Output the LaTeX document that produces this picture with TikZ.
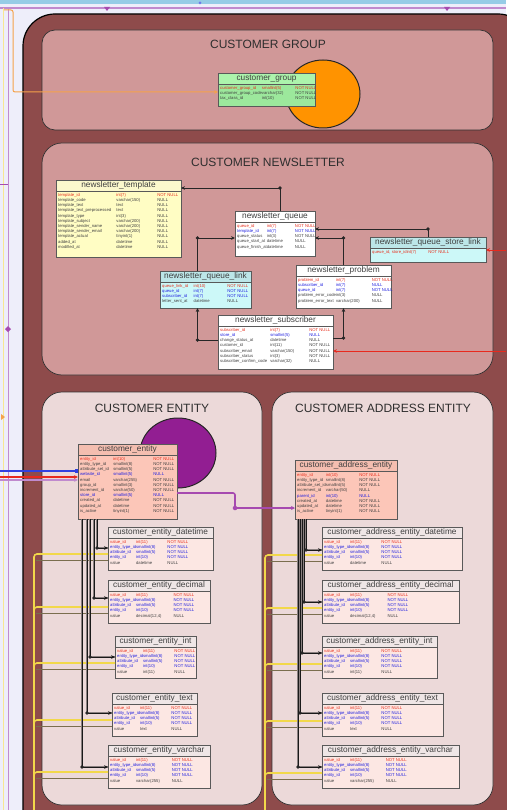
\documentclass[tikz,border=0pt]{standalone}
\usepackage{fontspec}
\setmainfont{Liberation Sans}
\usetikzlibrary{arrows.meta,calc}

\definecolor{canvas}{HTML}{EEEEFA}
\definecolor{outerfill}{HTML}{8E4B4B}
\definecolor{grpfill}{HTML}{D09898}
\definecolor{entfill}{HTML}{ECD9D9}
\definecolor{titlegray}{HTML}{2E2E2E}
\definecolor{pkred}{HTML}{E8301E}
\definecolor{fkblue}{HTML}{2222E0}
\definecolor{rowgray}{HTML}{404040}
\definecolor{grnhead}{HTML}{ACF4AC}
\definecolor{grnbody}{HTML}{9CE89C}
\definecolor{yelhead}{HTML}{FBF8CC}
\definecolor{yelbody}{HTML}{FFFDC4}
\definecolor{cyanhead}{HTML}{BCE6E8}
\definecolor{cyanbody}{HTML}{CCF8F8}
\definecolor{salhead}{HTML}{F4BEB0}
\definecolor{salbody}{HTML}{FCC6B8}
\definecolor{valhead}{HTML}{EFE6E6}
\definecolor{valbody}{HTML}{FCE7E3}
\definecolor{grporange}{HTML}{FF9300}
\definecolor{entpurple}{HTML}{921E92}
\definecolor{linkpurple}{HTML}{A64AB0}
\definecolor{linkred}{HTML}{E82A1E}
\definecolor{linkblue}{HTML}{3040E0}
\definecolor{linkyellow}{HTML}{F2D84A}
\definecolor{linkorange}{HTML}{F5A24A}
\definecolor{linkolive}{HTML}{7A6E4E}
\definecolor{linkgray}{HTML}{8A8080}
\definecolor{topblue}{HTML}{96CCE6}
\definecolor{linklav}{HTML}{C08ACE}

% underscores in table and column names are printed as they are
\catcode`\_=12

% table: box, header band and title
% #1 name, #2 x, #3 y, #4 width, #5 height, #6 header fill, #7 body fill, #8 title
\newcommand{\dbtable}[8]{%
  \node[tblbox, fill=#7, minimum width=#4pt, minimum height=#5pt, anchor=north west] (#1) at (#2,#3) {};
  \fill[#6] ([xshift=0.5pt,yshift=-0.5pt]#1.north west) rectangle ([xshift=-0.5pt,yshift=-11pt]#1.north east);
  \draw[tblrule] ([yshift=-11pt]#1.north west) -- ([yshift=-11pt]#1.north east);
  \node[tbltitle] (#1-title) at ([yshift=-5.7pt]#1.north) {#8};
  \draw[tblframe] (#1.north west) rectangle (#1.south east);
}
% table rows: #1 table name, #2 width of the rows, #3 rows
\newcommand{\dbrows}[3]{%
  \node[tblrows, anchor=north west] (#1-rows) at ([xshift=2pt,yshift=-12.5pt]#1.north west)
    {\begin{tabular*}{#2pt}{@{}l@{\extracolsep{\fill}}ll@{}}#3\end{tabular*}};
}
\newcommand{\dbpk}[3]{\textcolor{pkred}{#1}&\textcolor{pkred}{#2}&\textcolor{pkred}{#3}\\}
\newcommand{\dbfk}[3]{\textcolor{fkblue}{#1}&\textcolor{fkblue}{#2}&\textcolor{fkblue}{#3}\\}
\newcommand{\dbcol}[3]{#1&#2&#3\\}
\newcommand{\valrows}[1]{%
  \dbpk{value_id}{int(11)}{NOT NULL}%
  \dbfk{entity_type_id}{smallint(8)}{NOT NULL}%
  \dbfk{attribute_id}{smallint(5)}{NOT NULL}%
  \dbfk{entity_id}{int(10)}{NOT NULL}%
  \dbcol{value}{#1}{NULL}}

\begin{document}
\begin{tikzpicture}[x=1pt,y=-1pt,
  cluster/.style={draw=black!80, line width=0.7pt, rounded corners=13pt},
  clustertitle/.style={font=\fontsize{12}{14}\selectfont, text=titlegray, inner sep=0pt},
  tblframe/.style={draw=black!65, line width=0.9pt},
  tblrule/.style={draw=black!65, line width=0.6pt},
  tblbox/.style={tblframe, inner sep=0pt, outer sep=0pt},
  tbltitle/.style={font=\fontsize{8.3}{9}\selectfont, text=rowgray, inner sep=0pt},
  tblrows/.style={font=\fontsize{4.2}{5.2}\selectfont, text=rowgray, inner sep=0pt},
  link/.style={draw=black!85, line width=0.8pt, -{Stealth[length=4pt,width=3.6pt]}},
  fanlink/.style={link, draw=black!90, line width=0.7pt,
    preaction={draw=linkgray, line width=2.6pt, arrows=-}},
  linkdot/.style={circle, fill=black!85, inner sep=1.3pt, outer sep=0pt},
  yellink/.style={draw=linkyellow, line width=1.6pt},
  olivelink/.style={draw=linkolive, line width=0.6pt},
  redlink/.style={draw=linkred, line width=1pt, -{Stealth[length=4pt,width=3.6pt]}},
  purplelink/.style={draw=linkpurple, line width=1.6pt, -{Stealth[length=4pt,width=4pt]}},
]
\useasboundingbox (0,0) rectangle (506,810);
\fill[canvas] (0,0) rectangle (506,810);

% lines entering along the top and left margins
\fill[topblue] (0,0) rectangle (506,4);
\draw[linklav, line width=1.2pt] (0,8) -- (506,8);
\fill[linkpurple] (104,7) -- (110,7) -- (107,11) -- cycle;
\fill[linkpurple] (444,7) -- (450,7) -- (447,11) -- cycle;
\fill[linkblue!70] (200,3) circle (1.5pt);
\draw[linkyellow!60, line width=1pt] (3,8) -- (3,810);
\draw[linklav, line width=1pt] (8,8) -- (8,810);
\draw[linkpurple, line width=0.8pt] (0,184) -- (8,184);
\fill[linkpurple] (8,326) -- (11,329) -- (8,332) -- (5,329) -- cycle;
\fill[linkorange] (1,414) -- (5,417) -- (1,420) -- cycle;

% outer cluster
\draw[fill=outerfill, draw=black, line width=1.2pt, rounded corners=32pt] (23,14) rectangle (530,840);

% sub-clusters
\draw[cluster, fill=grpfill] (42,30) rectangle (493,130);
\node[clustertitle] (t-group) at (268,44) {CUSTOMER GROUP};
\draw[cluster, fill=grpfill, rounded corners=20pt] (42,143) rectangle (493,375);
\node[clustertitle] (t-news) at (268,162) {CUSTOMER NEWSLETTER};
\draw[cluster, fill=entfill, rounded corners=20pt] (42,392) rectangle (262,805);
\node[clustertitle] (t-ent) at (152,408) {CUSTOMER ENTITY};
\draw[cluster, fill=entfill, rounded corners=20pt] (272,392) rectangle (493,805);
\node[clustertitle] (t-addr) at (383,408) {CUSTOMER ADDRESS ENTITY};

% entity markers
\draw[fill=grporange, draw=black!85, line width=1pt] (323,94) ellipse [x radius=37pt, y radius=34pt];
\draw[fill=entpurple, draw=black!85, line width=1pt] (178,453) ellipse [x radius=38pt, y radius=35pt];

% ---------- customer group ----------
\dbtable{cg}{218}{73}{97}{33}{grnhead}{grnbody}{customer_group}
\dbrows{cg}{92}{\dbpk{customer_group_id}{smallint(5)}{NOT NULL}%
  \dbcol{customer_group_code}{varchar(32)}{NOT NULL}%
  \dbcol{tax_class_id}{int(10)}{NOT NULL}}

% ---------- newsletter ----------
\dbtable{nt}{56}{180}{125}{77}{yelhead}{yelbody}{newsletter_template}
\dbrows{nt}{120}{\dbpk{template_id}{int(7)}{NOT NULL}%
  \dbcol{template_code}{varchar(150)}{NULL}%
  \dbcol{template_text}{text}{NULL}%
  \dbcol{template_text_preprocessed}{text}{NULL}%
  \dbcol{template_type}{int(3)}{NULL}%
  \dbcol{template_subject}{varchar(200)}{NULL}%
  \dbcol{template_sender_name}{varchar(200)}{NULL}%
  \dbcol{template_sender_email}{varchar(200)}{NULL}%
  \dbcol{template_actual}{tinyint(1)}{NULL}%
  \dbcol{added_at}{datetime}{NULL}%
  \dbcol{modified_at}{datetime}{NULL}}

\dbtable{nq}{235}{211}{80}{45}{white}{white}{newsletter_queue}
\dbrows{nq}{75}{\dbpk{queue_id}{int(7)}{NOT NULL}%
  \dbfk{template_id}{int(7)}{NOT NULL}%
  \dbcol{queue_status}{int(3)}{NOT NULL}%
  \dbcol{queue_start_at}{datetime}{NULL}%
  \dbcol{queue_finish_at}{datetime}{NULL}}

\dbtable{nqs}{370}{237}{116}{25}{cyanhead}{cyanbody}{newsletter_queue_store_link}
\dbrows{nqs}{64}{\dbpk{queue_id, store_id}{int(7)}{NOT NULL}}

\dbtable{nql}{160}{271}{91}{37}{cyanhead}{cyanbody}{newsletter_queue_link}
\dbrows{nql}{86}{\dbpk{queue_link_id}{int(10)}{NOT NULL}%
  \dbfk{queue_id}{int(7)}{NOT NULL}%
  \dbfk{subscriber_id}{int(7)}{NOT NULL}%
  \dbcol{letter_sent_at}{datetime}{NULL}}

\dbtable{np}{296}{265}{95}{43}{white}{white}{newsletter_problem}
\dbrows{np}{90}{\dbpk{problem_id}{int(7)}{NOT NULL}%
  \dbfk{subscriber_id}{int(7)}{NULL}%
  \dbfk{queue_id}{int(7)}{NOT NULL}%
  \dbcol{problem_error_code}{int(3)}{NULL}%
  \dbcol{problem_error_text}{varchar(200)}{NULL}}

\dbtable{ns}{218}{315}{115}{54}{white}{white}{newsletter_subscriber}
\dbrows{ns}{110}{\dbpk{subscriber_id}{int(7)}{NOT NULL}%
  \dbfk{store_id}{smallint(5)}{NULL}%
  \dbcol{change_status_at}{datetime}{NULL}%
  \dbcol{customer_id}{int(11)}{NOT NULL}%
  \dbcol{subscriber_email}{varchar(150)}{NOT NULL}%
  \dbcol{subscriber_status}{int(3)}{NOT NULL}%
  \dbcol{subscriber_confirm_code}{varchar(32)}{NULL}}

% ---------- customer entity ----------
\dbtable{ce}{78}{444}{99}{75}{salhead}{salbody}{customer_entity}
\dbrows{ce}{94}{\dbpk{entity_id}{int(10)}{NOT NULL}%
  \dbcol{entity_type_id}{smallint(8)}{NOT NULL}%
  \dbcol{attribute_set_id}{smallint(5)}{NOT NULL}%
  \dbfk{website_id}{smallint(5)}{NULL}%
  \dbcol{email}{varchar(255)}{NOT NULL}%
  \dbcol{group_id}{smallint(3)}{NOT NULL}%
  \dbcol{increment_id}{varchar(50)}{NOT NULL}%
  \dbfk{store_id}{smallint(5)}{NULL}%
  \dbcol{created_at}{datetime}{NOT NULL}%
  \dbcol{updated_at}{datetime}{NOT NULL}%
  \dbcol{is_active}{tinyint(1)}{NOT NULL}}

\dbtable{cedt}{108}{527}{105}{43}{valhead}{valbody}{customer_entity_datetime}
\dbrows{cedt}{74}{\valrows{datetime}}
\dbtable{cedec}{108}{580}{102}{43}{valhead}{valbody}{customer_entity_decimal}
\dbrows{cedec}{74}{\valrows{decimal(12,4)}}
\dbtable{ceint}{115}{636}{81}{42}{valhead}{valbody}{customer_entity_int}
\dbrows{ceint}{74}{\valrows{int(11)}}
\dbtable{cetext}{112}{693}{85}{43}{valhead}{valbody}{customer_entity_text}
\dbrows{cetext}{74}{\valrows{text}}
\dbtable{cevar}{108}{745}{102}{43}{valhead}{valbody}{customer_entity_varchar}
\dbrows{cevar}{74}{\valrows{varchar(255)}}

% ---------- customer address entity ----------
\dbtable{cae}{295}{460}{102}{59}{salhead}{salbody}{customer_address_entity}
\dbrows{cae}{78}{\dbpk{entity_id}{int(10)}{NOT NULL}%
  \dbcol{entity_type_id}{smallint(8)}{NOT NULL}%
  \dbcol{attribute_set_id}{smallint(5)}{NOT NULL}%
  \dbcol{increment_id}{varchar(50)}{NULL}%
  \dbfk{parent_id}{int(10)}{NULL}%
  \dbcol{created_at}{datetime}{NOT NULL}%
  \dbcol{updated_at}{datetime}{NOT NULL}%
  \dbcol{is_active}{tinyint(1)}{NOT NULL}}

\dbtable{caedt}{322}{527}{140}{43}{valhead}{valbody}{customer_address_entity_datetime}
\dbrows{caedt}{74}{\valrows{datetime}}
\dbtable{caedec}{322}{580}{137}{43}{valhead}{valbody}{customer_address_entity_decimal}
\dbrows{caedec}{74}{\valrows{decimal(12,4)}}
\dbtable{caeint}{322}{636}{115}{42}{valhead}{valbody}{customer_address_entity_int}
\dbrows{caeint}{74}{\valrows{int(11)}}
\dbtable{caetext}{322}{693}{121}{43}{valhead}{valbody}{customer_address_entity_text}
\dbrows{caetext}{74}{\valrows{text}}
\dbtable{caevar}{322}{745}{137}{43}{valhead}{valbody}{customer_address_entity_varchar}
\dbrows{caevar}{74}{\valrows{varchar(255)}}

% ---------- connectors: newsletter ----------
\draw[link] ([xshift=5pt]nq.north) |- node[linkdot, pos=0.5] (d-qt) {} ([yshift=-8pt]nt.north east);
\draw[link] (nqs.north) |- node[linkdot, pos=0.5] (d-sq) {} ([yshift=-18pt]nq.north east);
\draw[link] ([xshift=-8pt]nql.north) |- node[linkdot, pos=0.5] (d-lq) {} ([yshift=-27pt]nq.north west);
\draw[link] (np.north) |- node[linkdot, pos=0.5] (d-pq) {} ([yshift=-27pt]nq.north east);
\draw[link] ([yshift=-25pt]ns.north west) -| node[linkdot, pos=0.5] (d-sl) {} ([xshift=-8pt]nql.south);
\draw[link] ([yshift=-23pt]ns.north east) -| node[linkdot, pos=0.5] (d-sp) {} (np.south);

\coordinate (inR1) at (506,250);
\coordinate (inR2) at (506,351);
\draw[redlink] (inR1) -- (inR1 -| nqs.east);
\draw[redlink] (inR2) -- (inR2 -| ns.east);

% ---------- connectors: group and entities ----------
\coordinate (inO) at (4,10);
\draw[draw=linkorange, line width=1pt, rounded corners=2pt, -{Stealth[length=4pt,width=3.6pt]}]
  (inO) -- ++(9,0) |- ([yshift=-19pt]cg.north west);

\coordinate (inB) at (0,471);
\coordinate (inRd) at (0,477);
\coordinate (inP) at (0,480);
\draw[draw=linklav, line width=1.2pt, -{Stealth[length=4pt,width=3.6pt]}] (inP) -- (inP -| ce.west);
\draw[draw=linkred, line width=1.2pt, -{Stealth[length=4pt,width=3.6pt]}] (inRd) -- (inRd -| ce.west);
\draw[draw=linkblue, line width=1.2pt, -{Square[length=3pt,width=4pt]}] (inB) -- (inB -| ce.west);

\draw[purplelink, rounded corners=2pt] ([yshift=-49pt]ce.north east) -- ++(58,0)
  |- node[circle, fill=linkpurple, inner sep=1.6pt, pos=0.5] (d-ca) {} ([yshift=-48pt]cae.north west);

% yellow feeds into the value tables
\coordinate (yelL) at (34,810);
\coordinate (yelR) at (265,810);
\foreach \t in {cedt,cedec,ceint,cetext,cevar}{
  \draw[olivelink] ($(yelL |- \t.north west)+(2,33)$) -- ([yshift=-33pt]\t.north west);
  \draw[yellink, rounded corners=3pt] (yelL) |- ([yshift=-27pt]\t.north west);
}
\foreach \t in {caedt,caedec,caeint,caetext,caevar}{
  \draw[olivelink] ($(yelR |- \t.north west)+(2,34)$) -- ([yshift=-34pt]\t.north west);
  \draw[yellink, rounded corners=3pt] (yelR) |- ([yshift=-28pt]\t.north west);
}

% value tables hang off their entity table
\draw[fanlink] ([xshift=4pt]ce.south west) |- node[linkdot, pos=0.5] (d-cv) {} ([yshift=-22pt]cevar.north west);
\draw[fanlink] ([xshift=9pt]ce.south west) |- node[linkdot, pos=0.5] (d-cx) {} ([yshift=-20pt]cetext.north west);
\draw[fanlink] ([xshift=12pt]ce.south west) |- node[linkdot, pos=0.5] (d-ci) {} ([yshift=-21pt]ceint.north west);
\draw[fanlink] ([xshift=16pt]ce.south west) |- node[linkdot, pos=0.5] (d-cd) {} ([yshift=-18pt]cedec.north west);
\draw[fanlink] ([xshift=19pt]ce.south west) |- node[linkdot, pos=0.5] (d-ct) {} ([yshift=-21pt]cedt.north west);

\draw[fanlink] ([xshift=3pt]cae.south west) |- node[linkdot, pos=0.5] (d-av) {} ([yshift=-22pt]caevar.north west);
\draw[fanlink] ([xshift=5pt]cae.south west) |- node[linkdot, pos=0.5] (d-ax) {} ([yshift=-20pt]caetext.north west);
\draw[fanlink] ([xshift=7pt]cae.south west) |- node[linkdot, pos=0.5] (d-ai) {} ([yshift=-17pt]caeint.north west);
\draw[fanlink] ([xshift=9pt]cae.south west) |- node[linkdot, pos=0.5] (d-ad) {} ([yshift=-22pt]caedec.north west);
\draw[fanlink] ([xshift=11pt]cae.south west) |- node[linkdot, pos=0.5] (d-at) {} ([yshift=-23pt]caedt.north west);
\end{tikzpicture}
\end{document}
